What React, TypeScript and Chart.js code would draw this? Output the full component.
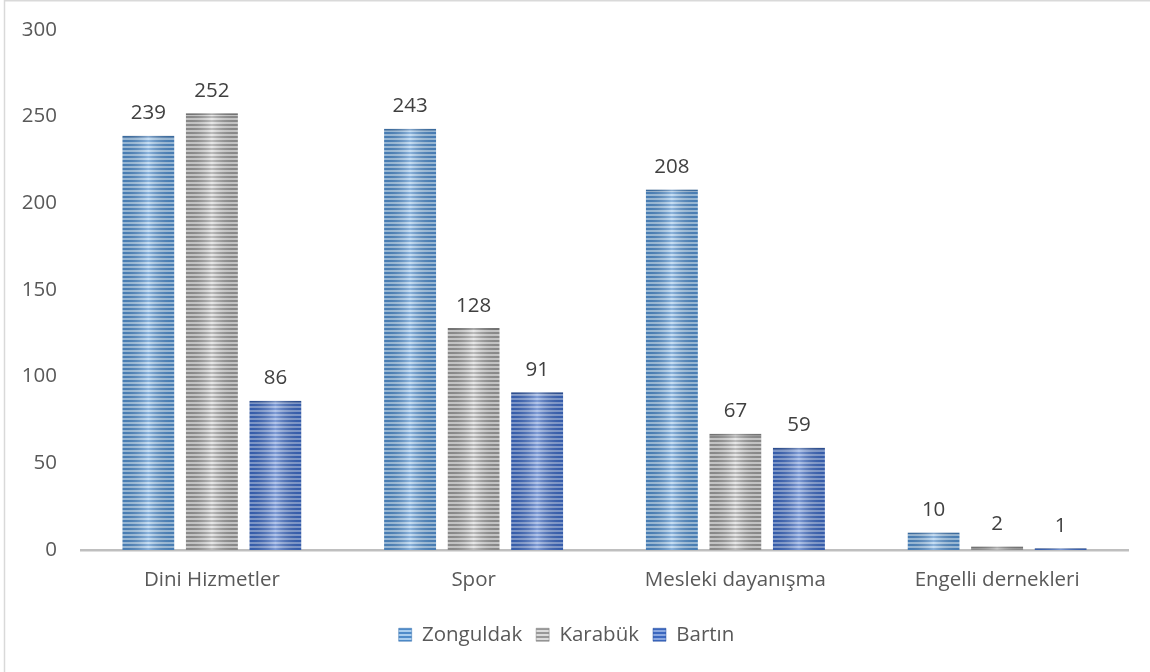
import React, { useEffect, useRef } from "react";
import { Chart, registerables } from "chart.js";

Chart.register(...registerables);

const categories = ["Dini Hizmetler", "Spor", "Mesleki dayanışma", "Engelli dernekleri"];
const seriesNames = ["Zonguldak", "Karabük", "Bartın"];
const zonguldak = [239, 243, 208, 10];
const karabuk = [252, 128, 67, 2];
const bartin = [86, 91, 59, 1];
const yTicks = [0, 50, 100, 150, 200, 250, 300];

const FONT = "'Open Sans', sans-serif";
const FS = 20.5;

function stripePattern(dark: string, light: string): CanvasPattern | string {
  const c = document.createElement("canvas");
  c.width = 8;
  c.height = 4;
  const g = c.getContext("2d");
  if (!g) return dark;
  g.fillStyle = light;
  g.fillRect(0, 0, 8, 4);
  g.fillStyle = dark;
  g.fillRect(0, 0, 8, 2);
  const p = g.createPattern(c, "repeat");
  return p || dark;
}

export default function App() {
  const ref = useRef<HTMLCanvasElement | null>(null);

  useEffect(() => {
    document.body.style.margin = "0";
    const canvas = ref.current;
    if (!canvas) return;

    const styles = [
      { dark: "#4f8bc9", light: "#a9cdee", top: "#3f76b0" },
      { dark: "#989898", light: "#dcdcdc", top: "#7f7f7f" },
      { dark: "#3b67bf", light: "#8aa7e0", top: "#2f55a0" },
    ];
    const values = [zonguldak, karabuk, bartin];

    const bgPlugin = {
      id: "bg",
      beforeDraw(chart: any) {
        const ctx = chart.ctx;
        ctx.save();
        ctx.fillStyle = "#ffffff";
        ctx.fillRect(0, 0, chart.width, chart.height);
        ctx.strokeStyle = "#d9d9d9";
        ctx.lineWidth = 1.5;
        ctx.beginPath();
        ctx.moveTo(4.5, chart.height);
        ctx.lineTo(4.5, 0.75);
        ctx.lineTo(chart.width, 0.75);
        ctx.stroke();
        ctx.restore();
      },
    };

    const overlayPlugin = {
      id: "overlay",
      afterDatasetsDraw(chart: any) {
        const ctx = chart.ctx;
        ctx.save();
        chart.data.datasets.forEach((ds: any, di: number) => {
          const meta = chart.getDatasetMeta(di);
          meta.data.forEach((bar: any, i: number) => {
            const { x, y, base, width } = bar.getProps(["x", "y", "base", "width"], true);
            const l = x - width / 2;
            const h = base - y;
            if (h > 0.5) {
              const gr = ctx.createLinearGradient(l, 0, l + width, 0);
              gr.addColorStop(0, "rgba(0,0,0,0.10)");
              gr.addColorStop(0.5, "rgba(255,255,255,0.35)");
              gr.addColorStop(1, "rgba(0,0,0,0.10)");
              ctx.fillStyle = gr;
              ctx.fillRect(l, y, width, h);
            }
            ctx.fillStyle = "#404040";
            ctx.font = `${FS}px ${FONT}`;
            ctx.textAlign = "center";
            ctx.textBaseline = "bottom";
            ctx.fillText(String(ds.data[i]), x, y - 12);
          });
        });
        ctx.restore();
      },
    };

    const chart = new Chart(canvas, {
      type: "bar",
      data: {
        labels: categories,
        datasets: seriesNames.map((name, k) => ({
          label: name,
          data: values[k],
          backgroundColor: stripePattern(styles[k].dark, styles[k].light) as any,
          borderColor: styles[k].top,
          borderWidth: { top: 2, left: 0, right: 0, bottom: 0 },
          borderSkipped: false,
          barPercentage: 0.82,
          categoryPercentage: 0.728,
        })),
      },
      options: {
        animation: false,
        responsive: false,
        maintainAspectRatio: false,
        layout: { padding: { left: 5, right: 22, top: 30, bottom: 17 } },
        plugins: {
          legend: {
            position: "bottom",
            labels: {
              font: { family: FONT, size: FS },
              color: "#595959",
              boxWidth: 13,
              boxHeight: 13,
              padding: 14,
            },
          },
          tooltip: { enabled: false },
        },
        scales: {
          x: {
            grid: { display: false, drawTicks: false },
            border: { display: true, color: "#bfbfbf", width: 2.5 },
            ticks: { font: { family: FONT, size: FS }, color: "#595959", padding: 18 },
          },
          y: {
            min: 0,
            max: 300,
            afterFit(scale: any) {
              scale.width = 76;
              scale.paddingTop = 12;
              scale.paddingBottom = 12;
            },
            afterBuildTicks(scale: any) {
              scale.ticks = yTicks.map((v) => ({ value: v }));
            },
            grid: { display: false, drawTicks: false },
            border: { display: false },
            ticks: { font: { family: FONT, size: FS }, color: "#595959", padding: 24 },
          },
        },
      },
      plugins: [bgPlugin, overlayPlugin],
    });

    return () => chart.destroy();
  }, []);

  return (
    <div style={{ position: "absolute", left: 0, top: 0, width: 1150, height: 672 }}>
      <canvas ref={ref} width={1150} height={672} style={{ width: 1150, height: 672 }} />
    </div>
  );
}
